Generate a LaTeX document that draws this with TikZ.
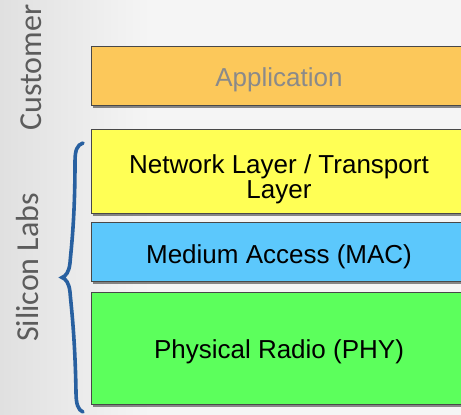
\documentclass[tikz,border=0pt]{standalone}
\usepackage{fontspec}
\setmainfont{Liberation Sans}
\newfontfamily\sidefont{Carlito}
\usetikzlibrary{shadows}
\definecolor{bgside}{RGB}{224,224,224}
\definecolor{bgmain}{RGB}{245,245,245}
\definecolor{appfill}{RGB}{252,200,90}
\definecolor{netfill}{RGB}{255,255,85}
\definecolor{macfill}{RGB}{92,200,252}
\definecolor{phyfill}{RGB}{92,255,92}
\definecolor{boxline}{RGB}{72,72,72}
\definecolor{apptext}{RGB}{138,138,138}
\definecolor{sidetext}{RGB}{92,92,92}
\definecolor{bracecol}{RGB}{40,96,160}
\tikzset{
  layer/.style={draw=boxline, line width=1.1pt, inner sep=0pt,
    drop shadow={shadow xshift=1.5pt, shadow yshift=-2.5pt, opacity=0.45, fill=black}},
  lbl/.style={anchor=base, inner sep=0pt, font=\fontsize{26}{25}\selectfont},
  side/.style={anchor=base, rotate=90, inner sep=0pt, text=sidetext,
    font=\sidefont\fontsize{32}{32}\selectfont},
}
\begin{document}
\begin{tikzpicture}[x=1pt,y=1pt]
\useasboundingbox (0,0) rectangle (461,-415);
\clip (0,0) rectangle (461,-415);
\fill[bgmain] (0,0) rectangle (461,-415);
\shade[left color=bgside, right color=bgmain] (0,0) rectangle (150,-415);
% layers
\node[layer, fill=appfill, minimum width=376pt, minimum height=59pt, anchor=north west] (app) at (91,-46) {};
\node[layer, fill=netfill, minimum width=376pt, minimum height=84pt, anchor=north west] (net) at (91,-129) {};
\node[layer, fill=macfill, minimum width=376pt, minimum height=59pt, anchor=north west] (mac) at (91,-222) {};
\node[layer, fill=phyfill, minimum width=376pt, minimum height=112pt, anchor=north west] (phy) at (91,-292) {};
% texts
\node[lbl, text=apptext] (apptxt) at (279,-86) {Application};
\node[lbl] (nettxt) at (279,-173) {\begin{tabular}[t]{@{}c@{}}Network Layer / Transport\\Layer\end{tabular}};
\node[lbl] (mactxt) at (279,-263) {Medium Access (MAC)};
\node[lbl] (phytxt) at (279,-358) {Physical Radio (PHY)};
% side labels
\node[side] (cust) at (41.5,-67.5) {Customer};
\node[side] (silabs) at (38.5,-267.5) {Silicon Labs};
% brace
\draw[bracecol, line width=3.6pt, line cap=round]
  (83,-143) .. controls (77,-145) and (75,-150) .. (75,-162)
  .. controls (75,-220) and (71,-250) .. (70,-263)
  .. controls (69,-272) and (66,-276) .. (62,-277.5)
  .. controls (66,-279) and (69,-283) .. (70,-292)
  .. controls (71,-305) and (75,-335) .. (76,-392)
  .. controls (76,-404) and (78,-410) .. (83,-412);
\end{tikzpicture}
\end{document}
